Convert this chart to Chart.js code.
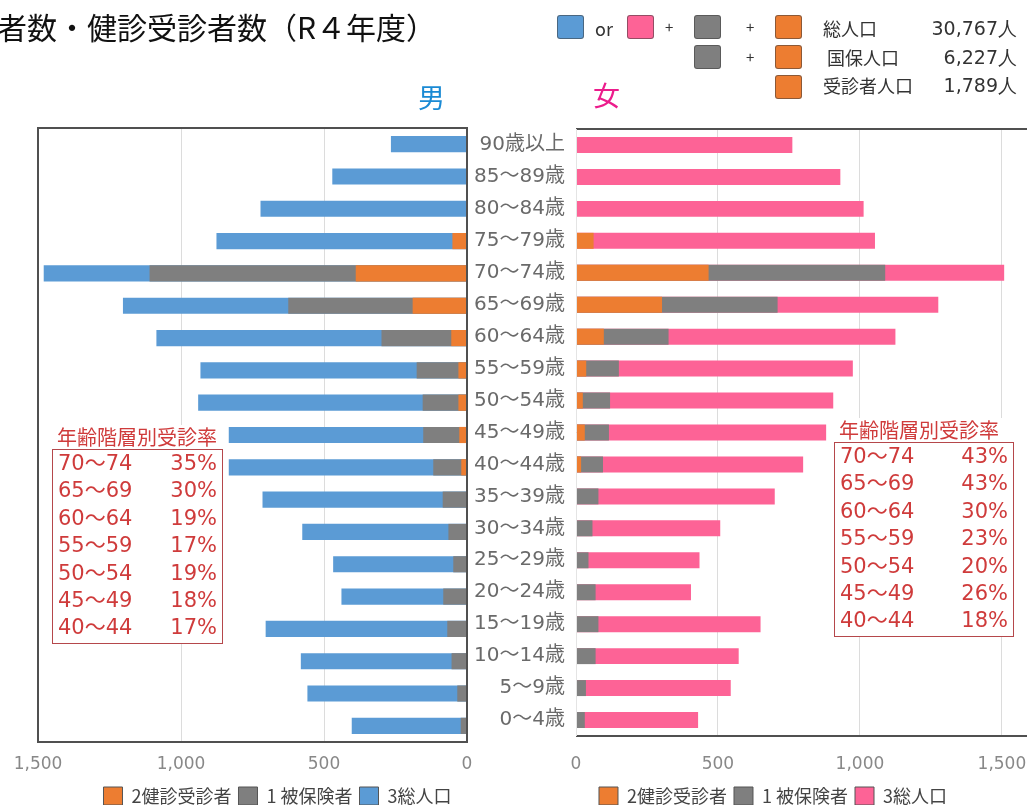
<!DOCTYPE html>
<html>
<head>
<meta charset="utf-8">
<script src="https://cdn.jsdelivr.net/npm/chart.js@4"></script>
<style>
  html, body { margin: 0; padding: 0; background: #fff; }
  body { width: 1027px; height: 805px; overflow: hidden; position: relative;
         font-family: "Noto Sans CJK JP", sans-serif; }
  canvas { position: absolute; top: 0; }
  #maleChart { left: 0; }
  #femaleChart { left: 470px; }
  .abs { position: absolute; white-space: nowrap; }
  .title { left: -3px; top: 6px; font-size: 30px; line-height: 40px; color: #111; }
  .sex { font-size: 27px; line-height: 30px; }
  .rateWrap { position: absolute; background: #fff; color: #cf3b3b; }
  .rateWrap .head { font-size: 20px; line-height: 24px; }
  .rateWrap .box { border: 1.5px solid #b5474b; background: #fff;
                   font-family: "DejaVu Sans", "Noto Sans CJK JP", sans-serif; font-size: 21px; }
  .rateWrap .row { display: flex; justify-content: space-between; line-height: 27.4px; }
  .sq { position: absolute; width: 27px; height: 24px; border-radius: 3px; box-sizing: border-box; border: 1px solid rgba(60,60,60,0.55); }
  .lg { position: absolute; font-size: 18px; line-height: 24px; color: #333; white-space: nowrap; }
  .num { font-family: "DejaVu Sans", sans-serif; }
</style>
</head>
<body>
<canvas id="maleChart" width="530" height="815"></canvas>
<canvas id="femaleChart" width="606" height="815"></canvas>

<div class="abs title">者数・健診受診者数（R４年度）</div>
<div class="abs sex" style="left:418px; top:82px; color:#1a8ad4;">男</div>
<div class="abs sex" style="left:593px; top:80px; color:#ec1c8c;">女</div>

<!-- 凡例（右上） -->
<div class="sq" style="left:557px; top:15px; background:#5b9bd5;"></div>
<div class="lg" style="left:595px; top:16px;">or</div>
<div class="sq" style="left:627px; top:15px; background:#fd6396;"></div>
<div class="lg" style="left:665px; top:15px; font-size:15px;">+</div>
<div class="sq" style="left:694px; top:15px; background:#7f7f7f;"></div>
<div class="lg" style="left:746px; top:15px; font-size:15px;">+</div>
<div class="sq" style="left:775px; top:15px; background:#ed7d31;"></div>
<div class="sq" style="left:694px; top:45px; background:#7f7f7f;"></div>
<div class="lg" style="left:746px; top:45px; font-size:15px;">+</div>
<div class="sq" style="left:775px; top:45px; background:#ed7d31;"></div>
<div class="sq" style="left:775px; top:75px; background:#ed7d31;"></div>
<div class="lg" style="left:823px; top:16px;">総人口</div>
<div class="lg num" style="right:10px; top:16px; font-size:19px;">30,767人</div>
<div class="lg" style="left:827px; top:45px;">国保人口</div>
<div class="lg num" style="right:10px; top:45px; font-size:19px;">6,227人</div>
<div class="lg" style="left:823px; top:73px;">受診者人口</div>
<div class="lg num" style="right:10px; top:73px; font-size:19px;">1,789人</div>

<div class="rateWrap" id="maleRate" style="left:52px; top:425px; width:171px;"></div>
<div class="rateWrap" id="femaleRate" style="left:834px; top:418px; width:180px;"></div>

<script>
// 年齢階層（上から）
const ages = ['90歳以上', '85～89歳', '80～84歳', '75～79歳', '70～74歳', '65～69歳', '60～64歳',
  '55～59歳', '50～54歳', '45～49歳', '40～44歳', '35～39歳', '30～34歳', '25～29歳',
  '20～24歳', '15～19歳', '10～14歳', '5～9歳', '0～4歳'];

// 男性
const maleTotal   = [266, 471, 722, 876, 1480, 1203, 1086, 932, 940, 833, 833, 715, 576, 468, 439, 704, 581, 558, 403];
const maleInsured = [0, 0, 0, 0, 1110, 625, 299, 176, 155, 153, 118, 85, 65, 48, 83, 69, 54, 34, 22];
const maleExam    = [0, 0, 0, 51, 389, 190, 55, 30, 30, 27, 20, 0, 0, 0, 0, 0, 0, 0, 0];

// 女性
const femaleTotal   = [762, 931, 1013, 1053, 1508, 1276, 1125, 975, 906, 881, 800, 700, 508, 435, 405, 650, 573, 545, 430];
const femaleInsured = [0, 0, 0, 0, 1089, 710, 326, 151, 120, 116, 95, 79, 58, 44, 69, 79, 69, 35, 31];
const femaleExam    = [0, 0, 0, 62, 467, 303, 98, 36, 24, 31, 18, 0, 0, 0, 0, 0, 0, 0, 0];

// 年齢階層別受診率
const rateAges    = ['70～74', '65～69', '60～64', '55～59', '50～54', '45～49', '40～44'];
const maleRates   = ['35%', '30%', '19%', '17%', '19%', '18%', '17%'];
const femaleRates = ['43%', '43%', '30%', '23%', '20%', '26%', '18%'];

const xTicks = [0, 500, 1000, 1500];

const ORANGE = '#ed7d31', GRAY = '#7f7f7f', BLUE = '#5b9bd5', PINK = '#fd6396';
const tickFont = { family: '"DejaVu Sans", "Noto Sans CJK JP", sans-serif', size: 17 };
const labelFont = { family: '"DejaVu Sans", "Noto Sans CJK JP", sans-serif', size: 20 };

function buildRateBox(id, rates) {
  const el = document.getElementById(id);
  let html = '<div class="head" style="padding-left:5px">年齢階層別受診率</div><div class="box" style="padding:0 5px 1px 5px">';
  rateAges.forEach((a, i) => {
    html += `<div class="row"><span>${a}</span><span>${rates[i]}</span></div>`;
  });
  el.innerHTML = html + '</div>';
}
buildRateBox('maleRate', maleRates);
buildRateBox('femaleRate', femaleRates);

function makeDatasets(exam, insured, total, mainColor) {
  const common = { grouped: false, barPercentage: 0.5, categoryPercentage: 1.0, borderWidth: 0 };
  return [
    Object.assign({ label: '2健診受診者', data: exam, backgroundColor: ORANGE }, common),
    Object.assign({ label: '1 被保険者', data: insured, backgroundColor: GRAY }, common),
    Object.assign({ label: '3総人口', data: total, backgroundColor: mainColor }, common)
  ];
}

const legendOpts = {
  position: 'bottom',
  labels: {
    font: { family: '"Noto Sans CJK JP", sans-serif', size: 18 },
    color: '#444',
    boxWidth: 19,
    boxHeight: 18,
    padding: 7,
    generateLabels(chart) {
      const items = Chart.defaults.plugins.legend.labels.generateLabels(chart);
      items.forEach(it => { it.strokeStyle = '#555'; it.lineWidth = 1; });
      return items;
    }
  }
};

// 目盛りは 0, 500, 1000, 1500 のみ
const setTicks = axis => { axis.ticks = xTicks.map(v => ({ value: v })); };

// 枠線
const frameBox = {
  id: 'frameBox',
  afterDatasetsDraw(chart, args, opts) {
    const a = chart.chartArea, c = chart.ctx;
    c.save();
    c.strokeStyle = '#505050';
    c.lineWidth = 2;
    if (opts.full) {
      c.strokeRect(a.left, a.top, a.right - a.left, a.bottom - a.top);
    } else {
      c.beginPath();
      c.moveTo(a.left, a.top); c.lineTo(a.right, a.top);
      c.moveTo(a.left, a.bottom); c.lineTo(a.right, a.bottom);
      c.stroke();
      c.strokeStyle = '#e4e4e4';
      c.lineWidth = 1;
      c.beginPath();
      c.moveTo(a.left + 0.5, a.top); c.lineTo(a.left + 0.5, a.bottom);
      c.stroke();
    }
    c.restore();
  }
};

new Chart(document.getElementById('maleChart'), {
  type: 'bar',
  data: { labels: ages, datasets: makeDatasets(maleExam, maleInsured, maleTotal, BLUE) },
  plugins: [frameBox],
  options: {
    indexAxis: 'y',
    responsive: false,
    animation: false,
    layout: { padding: { left: 38, right: 13, top: 128, bottom: 0 } },
    scales: {
      x: {
        reverse: true, min: 0, max: 1500,
        afterBuildTicks: setTicks,
        afterFit(s) { s.height = 38; },
        grid: { color: '#dcdcdc', drawTicks: false },
        border: { display: false },
        ticks: { padding: 12, color: '#888', font: tickFont,
                 callback: v => v.toLocaleString('en-US') }
      },
      y: {
        position: 'right',
        afterFit(s) { s.width = 50; },
        grid: { display: false },
        border: { display: false },
        ticks: { display: false }
      }
    },
    plugins: {
      legend: legendOpts,
      tooltip: { enabled: false },
      frameBox: { full: true }
    }
  }
});

new Chart(document.getElementById('femaleChart'), {
  type: 'bar',
  data: { labels: ages, datasets: makeDatasets(femaleExam, femaleInsured, femaleTotal, PINK) },
  plugins: [frameBox],
  options: {
    indexAxis: 'y',
    responsive: false,
    animation: false,
    layout: { padding: { left: 0, right: 0, top: 129, bottom: 0 } },
    scales: {
      x: {
        min: 0, max: 1761,
        afterBuildTicks: setTicks,
        afterFit(s) { s.height = 44; },
        grid: { color: '#dcdcdc', drawTicks: false },
        border: { display: false },
        ticks: { padding: 18, color: '#888', font: tickFont,
                 callback: v => v.toLocaleString('en-US') }
      },
      y: {
        position: 'left',
        afterFit(s) { s.width = 106; },
        grid: { display: false },
        border: { display: false },
        ticks: { padding: 3, color: '#6a6a6a', font: labelFont }
      }
    },
    plugins: {
      legend: legendOpts,
      tooltip: { enabled: false },
      frameBox: { full: false }
    }
  }
});
</script>
</body>
</html>
